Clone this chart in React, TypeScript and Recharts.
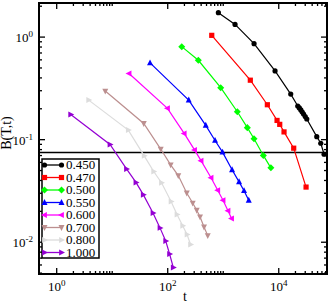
import React from "react";
import { LineChart, Line, XAxis, YAxis, ReferenceArea, ReferenceLine, Legend, Label } from "recharts";

const FONT = '"Liberation Serif", "DejaVu Serif", serif';

// temperatures, one curve each
const temps = ["0.450", "0.470", "0.500", "0.550", "0.600", "0.700", "0.800", "1.000"];
const colors = ["#000000", "#ff0000", "#00ff00", "#0000ff", "#ff00ff", "#bc8f8f", "#dcdcdc", "#9400d3"];
const shapes = ["circle", "square", "diamond", "up", "left", "down", "right", "right"];

const t450 = [817, 1633, 3589, 8580, 16440, 22000, 23500, 25000, 26500, 28000, 30000, 32000, 48400, 57150, 65500];
const b450 = [1.73, 1.33, 0.863, 0.468, 0.278, 0.213, 0.204, 0.195, 0.186, 0.178, 0.168, 0.159, 0.107, 0.0923, 0.0721];
const t470 = [621, 3076, 6234, 9320, 10420, 12450, 18600, 31050];
const b470 = [1.04, 0.38, 0.219, 0.154, 0.141, 0.119, 0.0826, 0.0345];
const t500 = [179, 356, 901, 1795, 2718, 3587, 5280, 7210];
const b500 = [0.807, 0.594, 0.321, 0.187, 0.131, 0.102, 0.0702, 0.0531];
const t550 = [48, 239, 484, 712, 971, 1442, 1927, 2370, 2880];
const b550 = [0.56, 0.243, 0.138, 0.0982, 0.0755, 0.0508, 0.0388, 0.0318, 0.0256];
const t600 = [20.1, 99, 198, 304, 398, 603, 796, 991, 1219, 1412];
const b600 = [0.441, 0.202, 0.115, 0.0794, 0.0624, 0.0425, 0.0321, 0.0257, 0.0203, 0.017];
const t700 = [7.5, 37, 74.8, 113, 155, 220, 282, 333, 382, 451, 526];
const b700 = [0.298, 0.144, 0.081, 0.0568, 0.0447, 0.0302, 0.0241, 0.0205, 0.0177, 0.0141, 0.0116];
const t800 = [3.77, 19.5, 37.7, 55.9, 77.3, 115, 147, 186, 223, 258];
const b800 = [0.243, 0.124, 0.0695, 0.0489, 0.038, 0.025, 0.0186, 0.0145, 0.0119, 0.0095];
const t1000 = [1.79, 9.13, 18.1, 26.8, 36.3, 54.3, 72.6, 92, 108, 126];
const b1000 = [0.176, 0.0898, 0.0518, 0.0383, 0.0291, 0.0193, 0.0138, 0.0103, 0.00768, 0.00568];

const tSets = [t450, t470, t500, t550, t600, t700, t800, t1000];
const bSets = [b450, b470, b500, b550, b600, b700, b800, b1000];

const plateau = 0.075;

const xDomain = [0.48, 74000];
const yDomain = [0.0049, 2.15];
const xMajors = [1, 100, 10000];
const xMinors = [2, 3, 4, 5, 6, 7, 8, 9, 10, 200, 300, 400, 500, 600, 700, 800, 900, 1000, 20000, 30000, 40000, 50000, 60000, 70000];
const yMajors = [0.01, 0.1, 1];
const yMinors = [0.005, 0.006, 0.007, 0.008, 0.009, 0.02, 0.03, 0.04, 0.05, 0.06, 0.07, 0.08, 0.09, 0.2, 0.3, 0.4, 0.5, 0.6, 0.7, 0.8, 0.9, 2];

const series = temps.map((name, i) => ({
  name,
  color: colors[i],
  shape: shapes[i],
  data: tSets[i].map((t, j) => ({ t, b: bSets[i][j] })),
}));

const W = 331;
const H = 304;
const margin = { top: 3, right: 4, left: 9, bottom: 0 };
const PLOT_TOP = margin.top;
const PLOT_RIGHT = W - margin.right;

function Marker({ shape, x, y, color, s = 2.6 }: any) {
  if (shape === "circle") return <circle cx={x} cy={y} r={s} fill={color} />;
  if (shape === "square") return <rect x={x - s} y={y - s} width={2 * s} height={2 * s} fill={color} />;
  let pts: number[][] = [];
  const a = s * 1.35;
  const b = s * 1.15;
  if (shape === "diamond") pts = [[x, y - a], [x + a, y], [x, y + a], [x - a, y]];
  if (shape === "up") pts = [[x, y - a], [x + b, y + b * 0.8], [x - b, y + b * 0.8]];
  if (shape === "down") pts = [[x, y + a], [x + b, y - b * 0.8], [x - b, y - b * 0.8]];
  if (shape === "left") pts = [[x - a, y], [x + b * 0.8, y - b], [x + b * 0.8, y + b]];
  if (shape === "right") pts = [[x + a, y], [x - b * 0.8, y - b], [x - b * 0.8, y + b]];
  return <polygon points={pts.map((p) => p.join(",")).join(" ")} fill={color} />;
}

function XTick({ x, y, payload }: any) {
  const v = payload.value;
  const major = xMajors.includes(v);
  const len = major ? 6 : 3;
  return (
    <g>
      <line x1={x} y1={y} x2={x} y2={y - len} stroke="#000" strokeWidth={1.3} />
      <line x1={x} y1={PLOT_TOP} x2={x} y2={PLOT_TOP + len} stroke="#000" strokeWidth={1.3} />
      {major && (
        <text x={x} y={y + 17} textAnchor="middle" fontFamily={FONT} fontSize={13} fill="#000">
          10<tspan dy={-5} fontSize={9}>{Math.round(Math.log10(v))}</tspan>
        </text>
      )}
    </g>
  );
}

function YTick({ x, y, payload }: any) {
  const v = payload.value;
  const major = yMajors.includes(v);
  const len = major ? 6 : 3;
  return (
    <g>
      <line x1={x} y1={y} x2={x + len} y2={y} stroke="#000" strokeWidth={1.3} />
      <line x1={PLOT_RIGHT} y1={y} x2={PLOT_RIGHT - len} y2={y} stroke="#000" strokeWidth={1.3} />
      {major && (
        <text x={x - 6} y={y + 5} textAnchor="end" fontFamily={FONT} fontSize={13} fill="#000">
          10<tspan dy={-5} fontSize={9}>{Math.round(Math.log10(v))}</tspan>
        </text>
      )}
    </g>
  );
}

function LegendBox() {
  const rowH = 12.5;
  return (
    <svg width={60} height={102} style={{ display: "block" }}>
      <rect x={1} y={1} width={57} height={99} fill="#fff" stroke="#000" strokeWidth={1.5} />
      {series.map((s, i) => {
        const cy = 7 + i * rowH;
        return (
          <g key={s.name}>
            <line x1={3} y1={cy} x2={21} y2={cy} stroke={s.color} strokeWidth={1.3} />
            <Marker shape={s.shape} x={3.5} y={cy} color={s.color} />
            <Marker shape={s.shape} x={20.5} y={cy} color={s.color} />
            <text x={25} y={cy + 4.3} fontFamily={FONT} fontSize={13} fill="#000">
              {s.name}
            </text>
          </g>
        );
      })}
    </svg>
  );
}

export default function App() {
  return (
    <div style={{ position: "absolute", left: 0, top: 0, width: W, height: H, background: "#fff" }}>
      <LineChart width={W} height={H} margin={margin}>
        <XAxis
          dataKey="t"
          type="number"
          scale="log"
          domain={xDomain}
          allowDataOverflow
          ticks={[...xMajors, ...xMinors]}
          interval={0}
          tick={(p: any) => <XTick {...p} />}
          tickLine={false}
          axisLine={false}
          tickSize={0}
          tickMargin={0}
          height={30}
        >
          <Label
            content={() => (
              <text x={185} y={301} textAnchor="middle" fontFamily={FONT} fontSize={14} fill="#000">
                t
              </text>
            )}
          />
        </XAxis>
        <YAxis
          dataKey="b"
          type="number"
          scale="log"
          domain={yDomain}
          allowDataOverflow
          ticks={[...yMajors, ...yMinors]}
          interval={0}
          tick={(p: any) => <YTick {...p} />}
          tickLine={false}
          axisLine={false}
          tickSize={0}
          tickMargin={0}
          width={30}
        >
          <Label
            content={() => (
              <text x={11} y={133} transform="rotate(-90 11 133)" textAnchor="middle" fontFamily={FONT} fontSize={14} fill="#000">
                B(T,t)
              </text>
            )}
          />
        </YAxis>
        <ReferenceArea
          x1={xDomain[0]}
          x2={xDomain[1]}
          y1={yDomain[0]}
          y2={yDomain[1]}
          fill="none"
          fillOpacity={0}
          stroke="#000"
          strokeWidth={2}
          ifOverflow="visible"
        />
        <ReferenceLine y={plateau} stroke="#000" strokeWidth={1.3} />
        {series.map((s) => (
          <Line
            key={s.name}
            data={s.data}
            dataKey="b"
            name={s.name}
            stroke={s.color}
            strokeWidth={1.2}
            isAnimationActive={false}
            activeDot={false}
            dot={(p: any) => <Marker key={`${s.name}-${p.index}`} shape={s.shape} x={p.cx} y={p.cy} color={s.color} />}
          />
        ))}
        <Legend
          layout="vertical"
          align="center"
          verticalAlign="middle"
          wrapperStyle={{ left: 41, top: 158, width: 60, height: 102 }}
          content={() => <LegendBox />}
        />
      </LineChart>
    </div>
  );
}
